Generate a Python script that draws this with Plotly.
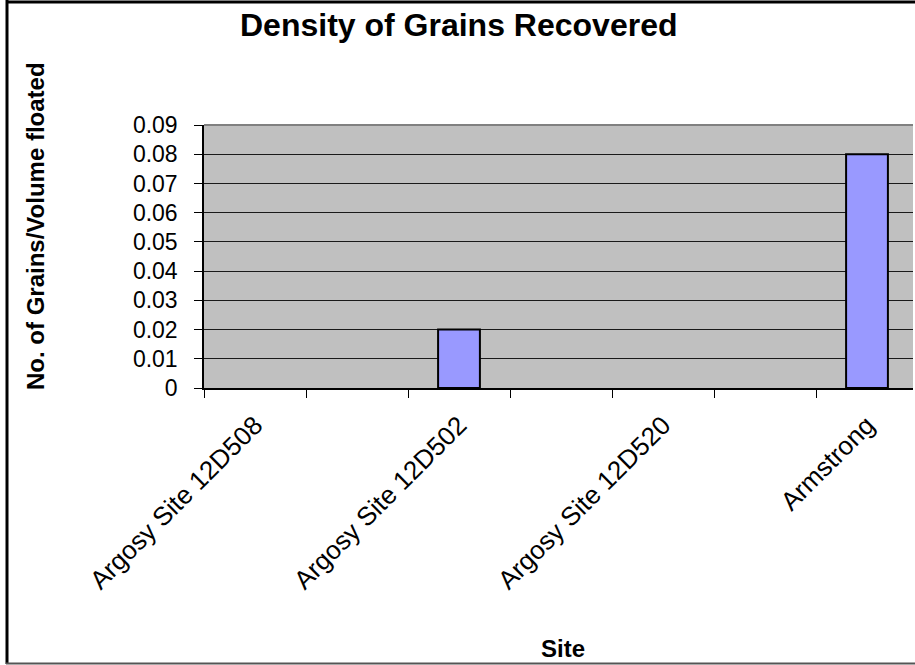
import plotly.graph_objects as go

# Chart data
sites = ["Argosy Site 12D508", "Argosy Site 12D502", "Argosy Site 12D520", "Armstrong"]
density = [0, 0.02, 0, 0.08]
y_tick_values = [0, 0.01, 0.02, 0.03, 0.04, 0.05, 0.06, 0.07, 0.08, 0.09]
y_tick_labels = ["0", "0.01", "0.02", "0.03", "0.04", "0.05", "0.06", "0.07", "0.08", "0.09"]

# Each site sits in every other category slot (the slots between are unlabeled)
slots = [2 * i for i in range(len(sites))]

W, H = 915, 665
L, R, T, B = 204, 2, 125, 277
plot_w = W - L - R
plot_h = H - T - B
slot_px = 102


def px_x(x):
    return (x - L) / plot_w


def px_y(y):
    return (H - B - y) / plot_h


FONT = "Liberation Sans, Arial, sans-serif"

fig = go.Figure()
fig.add_trace(go.Bar(
    x=slots,
    y=density,
    width=0.41,
    marker=dict(color="#9999FF",
                line=dict(color="black", width=[2 if v else 0 for v in density])),
    hoverinfo="skip",
))

fig.update_layout(
    width=W, height=H,
    margin=dict(l=L, r=R, t=T, b=B),
    paper_bgcolor="white",
    plot_bgcolor="#C0C0C0",
    showlegend=False,
    font=dict(family=FONT, color="black"),
    xaxis=dict(
        range=[-0.5, -0.5 + plot_w / slot_px],
        tickmode="array",
        tickvals=slots,
        ticktext=sites,
        tickangle=-45,
        ticks="",
        showgrid=False,
        zeroline=False,
        showline=True, linecolor="black", linewidth=1.5,
        tickfont=dict(size=26, family=FONT),
        ticklabelstandoff=10,
        minor=dict(tickmode="linear", tick0=-0.5, dtick=1, ticks="outside",
                   ticklen=8, tickcolor="black", tickwidth=1, showgrid=False),
        fixedrange=True,
    ),
    yaxis=dict(
        range=[0, 0.09],
        tickmode="array",
        tickvals=y_tick_values,
        ticktext=y_tick_labels,
        ticks="outside", ticklen=8, tickcolor="black", tickwidth=1,
        showgrid=True, gridcolor="#1a1a1a", gridwidth=1,
        zeroline=False,
        showline=True, linecolor="black", linewidth=1.5,
        tickfont=dict(size=23, family=FONT),
        ticklabelstandoff=12,
        fixedrange=True,
    ),
    annotations=[
        dict(text="<b>Density of Grains Recovered</b>", x=px_x(458), y=px_y(25),
             xref="paper", yref="paper", showarrow=False,
             font=dict(size=32, family=FONT), xanchor="center", yanchor="middle"),
        dict(text="<b>No. of Grains/Volume floated</b>", x=px_x(35), y=px_y(226),
             xref="paper", yref="paper", showarrow=False, textangle=-90,
             font=dict(size=24, family=FONT), xanchor="center", yanchor="middle"),
        dict(text="<b>Site</b>", x=px_x(563), y=px_y(648),
             xref="paper", yref="paper", showarrow=False,
             font=dict(size=24, family=FONT), xanchor="center", yanchor="middle"),
    ],
    shapes=[
        # plot area top edge
        dict(type="line", xref="paper", yref="paper", x0=0, x1=1, y0=1, y1=1,
             line=dict(color="#808080", width=2)),
        # outer frame
        dict(type="line", xref="paper", yref="paper", x0=px_x(7), x1=px_x(7),
             y0=px_y(0), y1=px_y(664), line=dict(color="black", width=3)),
        dict(type="line", xref="paper", yref="paper", x0=px_x(6), x1=px_x(915),
             y0=px_y(2), y1=px_y(2), line=dict(color="black", width=3)),
        dict(type="line", xref="paper", yref="paper", x0=px_x(6), x1=px_x(915),
             y0=px_y(663.5), y1=px_y(663.5), line=dict(color="#555555", width=2)),
    ],
)

fig.write_html("out.html")
